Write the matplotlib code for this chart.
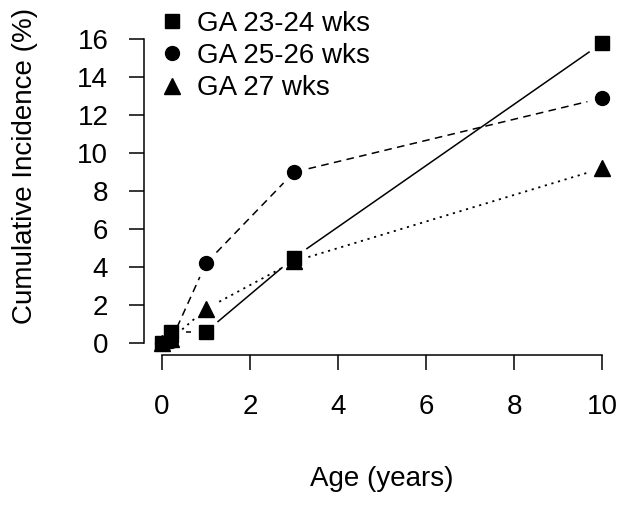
import numpy as np
import matplotlib
matplotlib.use("Agg")
import matplotlib.pyplot as plt
from matplotlib.lines import Line2D

plt.rcParams['font.family'] = ['Liberation Sans', 'DejaVu Sans']

age = [0, 0.2, 1, 3, 10]
ga_23_24 = [0, 0.6, 0.6, 4.5, 15.8]
ga_25_26 = [0, 0.1, 4.2, 9.0, 12.9]
ga_27 = [0, 0.2, 1.8, 4.3, 9.2]
labels = ["GA 23-24 wks", "GA 25-26 wks", "GA 27 wks"]
xticks = [0, 2, 4, 6, 8, 10]
yticks = [0, 2, 4, 6, 8, 10, 12, 14, 16]

W, H = 629, 508
fig = plt.figure(figsize=(W / 100, H / 100), dpi=100)
left, right, bottom, top = 144.4, 619.6, 355, 33
ax = fig.add_axes([left / W, 1 - bottom / H, (right - left) / W, (bottom - top) / H])
ax.set_xlim(-0.4, 10.4)
ax.set_ylim(-0.63, 16.33)

for s in ['top', 'right']:
    ax.spines[s].set_visible(False)
ax.spines['left'].set_bounds(0, 16)
ax.spines['bottom'].set_bounds(0, 10)
for s in ['left', 'bottom']:
    ax.spines[s].set_linewidth(1.1)
ax.set_xticks(xticks)
ax.set_yticks(yticks)
ax.tick_params(axis='both', direction='out', length=11, width=1.1, labelsize=20)
ax.tick_params(axis='x', pad=17)
ax.tick_params(axis='y', pad=15)
ax.set_xlabel("Age (years)", fontsize=20, labelpad=33)
ax.set_ylabel("Cumulative Incidence (%)", fontsize=20, va='center')
ax.yaxis.set_label_coords((25 - left) / (right - left), (bottom - 166) / (bottom - top))

series = [ga_23_24, ga_25_26, ga_27]
markers = ['s', 'o', '^']
msizes = [10, 10, 11]
dashes = [None, (5, 3.5), (1.2, 2.6)]
widths = [1.1, 1.1, 1.3]
gap = 15.0  # pixels

fig.canvas.draw()
for ys, m, ms, d, lw in zip(series, markers, msizes, dashes, widths):
    pts = ax.transData.transform(np.column_stack([age, ys]))
    for i in range(len(pts) - 1):
        p0, p1 = pts[i], pts[i + 1]
        v = p1 - p0
        L = np.hypot(*v)
        if L <= 2 * gap:
            continue
        u = v / L
        a = p0 + u * gap
        b = p1 - u * gap
        seg = ax.transData.inverted().transform(np.vstack([a, b]))
        ln, = ax.plot(seg[:, 0], seg[:, 1], color='black', lw=lw, solid_capstyle='butt')
        if d is not None:
            ln.set_dashes(d)
    ax.plot(age, ys, linestyle='none', marker=m, markersize=ms, color='black', clip_on=False)

handles = [Line2D([], [], linestyle='none', marker=m, markersize=ms, color='black')
           for m, ms in zip(markers, msizes)]
leg = ax.legend(handles, labels, loc='upper left', bbox_to_anchor=(161 / W, 1 - 11 / H),
                bbox_transform=fig.transFigure, frameon=False, fontsize=20,
                handlelength=0.8, handletextpad=0.5, labelspacing=0.22, borderpad=0,
                borderaxespad=0)

fig.savefig("out.png", dpi=100)
